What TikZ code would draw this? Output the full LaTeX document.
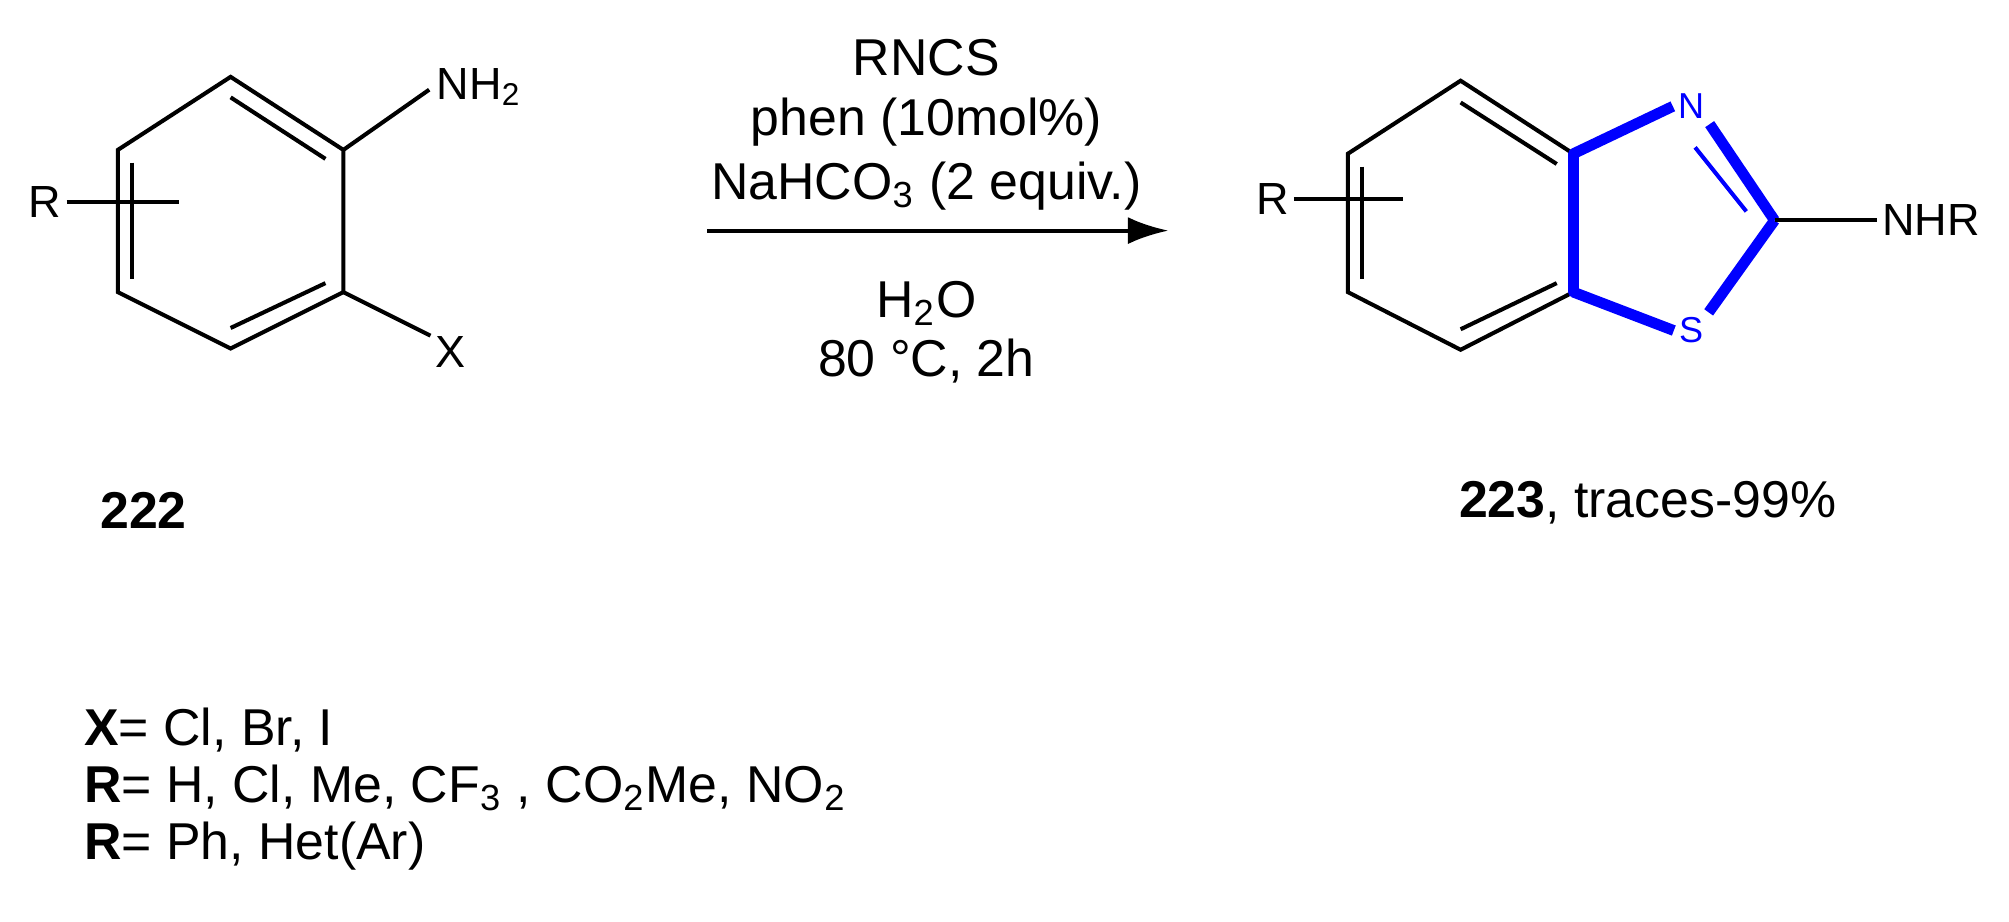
\documentclass[tikz,border=0pt]{standalone}
\usepackage{fontspec}
\setmainfont{Liberation Sans}
\usetikzlibrary{arrows.meta}
\newcommand{\sbs}[1]{\textsubscript{#1}}
\begin{document}
\begin{tikzpicture}[x=0.01cm,y=-0.01cm,
  bond/.style={line width=0.9pt},
  bb/.style={line width=2.4pt,draw=blue},
  lbl/.style={font=\fontsize{10}{11}\selectfont,inner sep=1pt},
  cond/.style={font=\fontsize{11.5}{13}\selectfont,inner sep=0pt}]
\useasboundingbox (0,0) rectangle (1568,719);
% left ring
\coordinate (a1) at (180,60); \coordinate (a2) at (268,117); \coordinate (a3) at (268,228);
\coordinate (a4) at (180,272); \coordinate (a5) at (92,228); \coordinate (a6) at (92,117);
\draw[bond] (a1)--(a2)--(a3)--(a4)--(a5)--(a6)--cycle;
\draw[bond] (180,76)--(254,124);
\draw[bond] (180,256)--(254,221);
\draw[bond] (103,127)--(103,218);
\node[lbl] (nh2) at (374,68) {NH\sbs{2}};
\coordinate (nh2b) at (335,70);
\draw[bond] (a2)--(nh2b);
\node[lbl] (x) at (352,275) {X};
\coordinate (xb) at (336,262);
\draw[bond] (a3)--(xb);
\node[lbl] (r1) at (35,158) {R};
\coordinate (r1e) at (140,158);
\draw[bond] (r1.east)--(r1e);
% arrow
\coordinate (as) at (552,180); \coordinate (ae) at (912,180);
\draw[bond,-{Latex[length=9pt,width=6pt]}] (as)--(ae);
\node[cond] (c1) at (723,45) {RNCS};
\node[cond] (c2) at (723,95) {phen (10mol\%)};
\node[cond] (c3) at (723,145) {NaHCO\sbs{3} (2 equiv.)};
\node[cond] (c4) at (723,237) {H\sbs{2}O};
\node[cond] (c5) at (723,282) {80 °C, 2h};
% right
\coordinate (b1) at (1140,63); \coordinate (b2) at (1228,120); \coordinate (b3) at (1228,228);
\coordinate (b4) at (1140,273); \coordinate (b5) at (1052,228); \coordinate (b6) at (1052,120);
\draw[bond] (b2)--(b1)--(b6)--(b5)--(b4)--(b3);
\draw[bond] (1140,80)--(1215,128);
\draw[bond] (1140,257)--(1215,221);
\draw[bond] (1063,130)--(1063,218);
\node[lbl] (r2) at (993,155) {R};
\draw[bond] (r2.east)--(1095,155);
\node[lbl,text=blue,font=\fontsize{8}{9}\selectfont] (n) at (1320,83) {N};
\node[lbl,text=blue,font=\fontsize{8}{9}\selectfont] (s) at (1320,258) {S};
\coordinate (c2c) at (1385,172);
\draw[bb,line cap=round] (b2)--(b3);
\draw[bb] (b2)--(n.west);
\draw[bb] (n.south east)--(c2c);
\draw[bb] (c2c)--(s.north east);
\draw[bb] (s.west)--(b3);
\draw[blue,line width=0.9pt] (1323,115)--(1363,165);
\node[lbl] (nhr) at (1507,172) {NHR};
\draw[bond] (c2c)--(nhr.west);
\node[cond] (l1) at (112,398) {\textbf{222}};
\node[cond] (l2) at (1286,392) {\textbf{223}, traces-99\%};
\node[cond,anchor=west] (x1) at (65,570) {\textbf{X}= Cl, Br, I};
\node[cond,anchor=west] (x2) at (65,615) {\textbf{R}= H, Cl, Me, CF\sbs{3} , CO\sbs{2}Me, NO\sbs{2}};
\node[cond,anchor=west] (x3) at (65,660) {\textbf{R}= Ph, Het(Ar)};
\end{tikzpicture}
\end{document}
